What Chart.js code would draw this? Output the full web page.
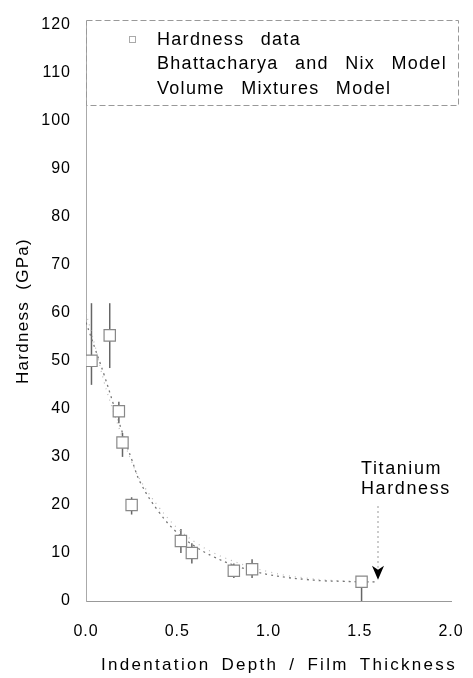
<!DOCTYPE html>
<html>
<head>
<meta charset="utf-8">
<script src="https://cdn.jsdelivr.net/npm/chart.js@4/dist/chart.umd.min.js"></script>
<style>
  html, body { margin: 0; padding: 0; background: #fff; }
  #wrap { width: 473px; height: 678px; position: relative; }
</style>
</head>
<body>
<div id="wrap"><canvas id="hardness-chart" width="473" height="678"></canvas></div>
<script>
// measured hardness (indentation depth / film thickness vs GPa)
const depth = [0.03, 0.13, 0.18, 0.2, 0.25, 0.52, 0.58, 0.81, 0.91, 1.51];
const hardness = [50, 55.3, 39.5, 33, 20, 12.5, 10, 6.3, 6.6, 4];
const hardLow = [45, 48.5, 37, 30, 18, 10, 7.8, 4.8, 4.8, 0];
const hardHigh = [62, 62, 41.5, 35, 21.6, 15, 12, 7.8, 8.7, 4.2];

// model curves
const modelDepth = [0, 0.05, 0.1, 0.15, 0.2, 0.25, 0.3, 0.4, 0.5, 0.6, 0.7, 0.8, 0.9, 1.0, 1.1, 1.2, 1.3, 1.4, 1.5, 1.6];
const bnModel = [58, 52.5, 47, 41, 35, 29.5, 24.5, 18.5, 14.2, 11.3, 9.2, 7.6, 6.4, 5.5, 4.9, 4.5, 4.2, 4.1, 4.0, 4.0];
const vmModel = [60, 53, 45.5, 39.5, 34, 29, 25, 19.5, 15.2, 12.2, 10, 8.4, 7.1, 6.1, 5.3, 4.8, 4.4, 4.2, 4.0, 4.0];

const xTicks = [0, 0.5, 1.0, 1.5, 2.0];
const yTicks = [0, 10, 20, 30, 40, 50, 60, 70, 80, 90, 100, 110, 120];
const legendLabels = ['Hardness data', 'Bhattacharya and Nix Model', 'Volume Mixtures Model'];

const titaniumX = 1.6;
const titaniumY = 4.4;

const FONT = "'Liberation Sans', Arial, sans-serif";

const toPoints = (xs, ys) => xs.map((v, i) => ({ x: v, y: ys[i] }));

// wider lettering for the tick labels, like the scanned original
const spacing = {
  id: 'spacing',
  beforeDraw(chart) {
    chart.ctx.letterSpacing = '1px';
  }
};

// vertical error bars, drawn under the square markers
const errorBars = {
  id: 'errorBars',
  beforeDatasetsDraw(chart) {
    const { ctx, scales: { x, y } } = chart;
    ctx.save();
    ctx.strokeStyle = '#666';
    ctx.lineWidth = 1.5;
    depth.forEach((d, i) => {
      const px = x.getPixelForValue(d);
      ctx.beginPath();
      ctx.moveTo(px, y.getPixelForValue(hardLow[i]));
      ctx.lineTo(px, y.getPixelForValue(hardHigh[i]));
      ctx.stroke();
    });
    ctx.restore();
  }
};

// legend box, axis titles and the titanium arrow
const decorations = {
  id: 'decorations',
  afterDraw(chart) {
    const { ctx, chartArea, scales: { x, y } } = chart;
    ctx.save();

    // legend box
    const boxL = chartArea.left, boxT = 20, boxR = 458, boxB = 105;
    ctx.strokeStyle = '#999';
    ctx.lineWidth = 1;
    ctx.setLineDash([6, 3]);
    ctx.strokeRect(boxL + 0.5, boxT + 0.5, boxR - boxL, boxB - boxT);
    ctx.setLineDash([]);

    ctx.strokeStyle = '#aaa';
    ctx.strokeRect(129.5, 36.5, 6, 6);

    ctx.fillStyle = '#000';
    ctx.font = '18px ' + FONT;
    ctx.letterSpacing = '1.3px';
    ctx.wordSpacing = '10px';
    ctx.textAlign = 'left';
    ctx.textBaseline = 'middle';
    legendLabels.forEach((t, i) => ctx.fillText(t, 157, 40 + i * 24.5));

    // axis titles
    ctx.font = '17px ' + FONT;
    ctx.letterSpacing = '2.3px';
    ctx.wordSpacing = '4px';
    ctx.textAlign = 'center';
    ctx.fillText('Indentation Depth / Film Thickness', 279, 665);
    ctx.letterSpacing = '1.3px';
    ctx.wordSpacing = '5px';
    ctx.save();
    ctx.translate(23, 311);
    ctx.rotate(-Math.PI / 2);
    ctx.fillText('Hardness (GPa)', 0, 0);
    ctx.restore();

    // titanium hardness marker
    const px = x.getPixelForValue(titaniumX);
    ctx.letterSpacing = '1.6px';
    ctx.wordSpacing = '0px';
    ctx.font = '18px ' + FONT;
    ctx.textAlign = 'left';
    ctx.fillText('Titanium', px - 17, 469);
    ctx.fillText('Hardness', px - 17, 489);

    const tipY = y.getPixelForValue(titaniumY);
    ctx.strokeStyle = '#999';
    ctx.setLineDash([2, 3]);
    ctx.beginPath();
    ctx.moveTo(px, 506);
    ctx.lineTo(px, tipY - 12);
    ctx.stroke();
    ctx.setLineDash([]);
    ctx.fillStyle = '#000';
    ctx.beginPath();
    ctx.moveTo(px - 6, tipY - 14);
    ctx.lineTo(px, tipY - 10);
    ctx.lineTo(px + 6, tipY - 14);
    ctx.lineTo(px, tipY);
    ctx.closePath();
    ctx.fill();

    ctx.restore();
  }
};

const hardnessChart = new Chart(document.getElementById('hardness-chart'), {
  type: 'scatter',
  data: {
    datasets: [
      {
        label: legendLabels[0],
        data: toPoints(depth, hardness),
        pointStyle: 'rect',
        pointRadius: 8,
        backgroundColor: '#fff',
        borderColor: '#888',
        borderWidth: 1.2,
        showLine: false,
        order: 0
      },
      {
        label: legendLabels[1],
        data: toPoints(modelDepth, bnModel),
        showLine: true,
        pointRadius: 0,
        borderColor: '#777',
        borderWidth: 1.3,
        borderDash: [2, 4],
        tension: 0.4,
        order: 1
      },
      {
        label: legendLabels[2],
        data: toPoints(modelDepth, vmModel),
        showLine: true,
        pointRadius: 0,
        borderColor: '#bbb',
        borderWidth: 1.2,
        borderDash: [1, 5],
        tension: 0.4,
        order: 2
      }
    ]
  },
  options: {
    responsive: false,
    animation: false,
    layout: { padding: { top: 20, right: 22, left: 0, bottom: 0 } },
    plugins: {
      legend: { display: false },
      tooltip: { enabled: false }
    },
    scales: {
      x: {
        type: 'linear',
        min: 0,
        max: 2,
        afterFit: (scale) => {
          scale.height = 77;
          scale.paddingLeft = 0;
          scale.paddingRight = 0;
        },
        afterBuildTicks: (scale) => { scale.ticks = xTicks.map(v => ({ value: v })); },
        ticks: {
          color: '#000',
          padding: 21,
          font: { family: FONT, size: 16 },
          callback: (v) => Number(v).toFixed(1)
        },
        grid: { display: false, drawTicks: false },
        border: { display: true, color: '#999', dash: [8, 4] }
      },
      y: {
        type: 'linear',
        min: 0,
        max: 120,
        afterFit: (scale) => { scale.width = 86; },
        afterBuildTicks: (scale) => { scale.ticks = yTicks.map(v => ({ value: v })); },
        ticks: {
          color: '#000',
          padding: 15,
          font: { family: FONT, size: 16 }
        },
        grid: { display: false, drawTicks: false },
        border: { display: true, color: '#aaa', dash: [2, 3] }
      }
    }
  },
  plugins: [spacing, errorBars, decorations]
});
</script>
</body>
</html>
